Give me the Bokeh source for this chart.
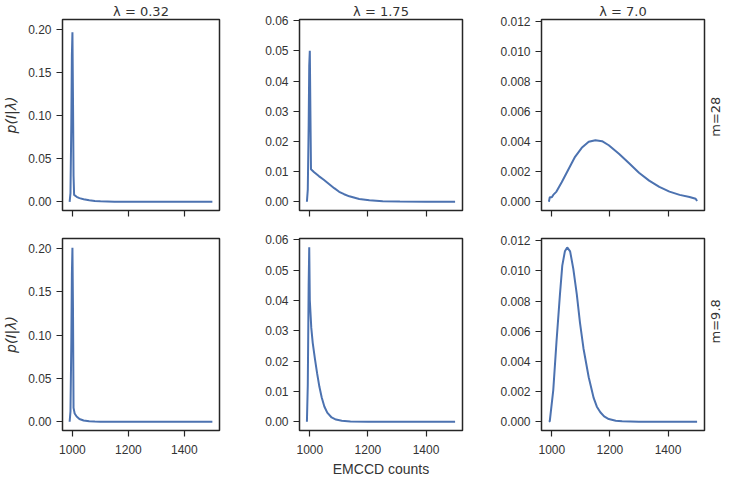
from math import pi
from bokeh.plotting import figure
from bokeh.layouts import gridplot
from bokeh.models import Range1d, FixedTicker, Label, PrintfTickFormatter
from bokeh.embed import file_html
from bokeh.resources import INLINE

# ---- labels / ticks ----
lambda_labels = ["0.32", "1.75", "7.0"]
gain_labels = ["28", "9.8"]
x_tick_values = [1000, 1200, 1400]
y_ticks_col = [
    [0.0, 0.05, 0.10, 0.15, 0.20],
    [0.0, 0.01, 0.02, 0.03, 0.04, 0.05, 0.06],
    [0.0, 0.002, 0.004, 0.006, 0.008, 0.010, 0.012],
]
y_formats = ["%.2f", "%.2f", "%.3f"]

# ---- series ----
# lambda = 0.32, m = 28
counts_032_m28 = [990, 993, 996, 998, 1000, 1002, 1004, 1006, 1015, 1025, 1040, 1060, 1080, 1100, 1150, 1200, 1300, 1400, 1500]
pdf_032_m28 = [0.0, 0.01, 0.09, 0.17, 0.197, 0.12, 0.03, 0.008, 0.0058, 0.0043, 0.003, 0.0018, 0.001, 0.0006, 0.0002, 0.0001, 0.0, 0.0, 0.0]
# lambda = 1.75, m = 28
counts_175_m28 = [990, 993, 996, 998, 1000, 1002, 1004, 1015, 1031, 1048, 1066, 1084, 1101, 1118, 1136, 1170, 1205, 1251, 1310, 1400, 1500]
pdf_175_m28 = [0.0, 0.004, 0.025, 0.045, 0.050, 0.03, 0.0108, 0.0098, 0.0085, 0.0073, 0.0059, 0.0045, 0.0033, 0.0025, 0.0018, 0.0009, 0.0005, 0.0002, 0.0001, 0.0, 0.0]
# lambda = 7.0, m = 28
counts_70_m28 = [990, 993, 1000, 1005, 1016, 1034, 1057, 1080, 1103, 1127, 1150, 1173, 1196, 1231, 1266, 1300, 1335, 1370, 1405, 1440, 1474, 1495, 1500]
pdf_70_m28 = [0.0, 0.0003, 0.0003, 0.00046, 0.00068, 0.0013, 0.00215, 0.003, 0.0036, 0.0040, 0.0041, 0.00404, 0.00377, 0.0032, 0.00257, 0.00194, 0.00141, 0.00099, 0.00068, 0.00046, 0.00032, 0.0002, 0.00005]
# lambda = 0.32, m = 9.8
counts_032_m98 = [990, 993, 996, 998, 1000, 1002, 1004, 1008, 1015, 1025, 1040, 1060, 1080, 1100, 1200, 1300, 1400, 1500]
pdf_032_m98 = [0.0, 0.012, 0.09, 0.17, 0.201, 0.13, 0.016, 0.0095, 0.006, 0.0032, 0.0015, 0.0005, 0.0002, 0.0, 0.0, 0.0, 0.0, 0.0]
# lambda = 1.75, m = 9.8
counts_175_m98 = [990, 993, 996, 998, 1000, 1005, 1010, 1018, 1025, 1033, 1041, 1050, 1060, 1075, 1090, 1110, 1140, 1200, 1300, 1400, 1500]
pdf_175_m98 = [0.0, 0.012, 0.045, 0.0575, 0.04, 0.031, 0.026, 0.0205, 0.016, 0.0115, 0.008, 0.005, 0.003, 0.0014, 0.0007, 0.0003, 0.0001, 0.0, 0.0, 0.0, 0.0]
# lambda = 7.0, m = 9.8
counts_70_m98 = [990, 993, 1005, 1016, 1028, 1036, 1045, 1053, 1063, 1074, 1086, 1097, 1109, 1127, 1144, 1155, 1167, 1180, 1196, 1220, 1242, 1300, 1400, 1500]
pdf_70_m98 = [0.0, 0.00004, 0.0021, 0.00528, 0.00845, 0.01035, 0.0113, 0.01156, 0.0113, 0.01014, 0.00845, 0.00655, 0.00486, 0.00295, 0.00158, 0.001, 0.00063, 0.00036, 0.00018, 0.00007, 0.00003, 0.0, 0.0, 0.0]

series = [
    [(counts_032_m28, pdf_032_m28), (counts_175_m28, pdf_175_m28), (counts_70_m28, pdf_70_m28)],
    [(counts_032_m98, pdf_032_m98), (counts_175_m98, pdf_175_m98), (counts_70_m98, pdf_70_m98)],
]

x_lim = (964.5, 1525.5)
y_lims = [(-0.0101, 0.2117), (-0.0029, 0.0604), (-0.00058, 0.01215)]

DARK = "#262626"
TXT = "#333333"
LINE = "#4c72b0"
FRAME_W = 163
FRAME_H = 192
left_b = [56, 48, 48]
right_b = [32, 31, 4]
LABEL_W = 721 - sum(left_b) - sum(right_b) - 3 * FRAME_W
top_bs = [18, 14]
bot_bs = [14, 49]

rows = []
for r in range(2):
    row = []
    top_b = top_bs[r]
    bot_b = bot_bs[r]
    H = top_b + FRAME_H + bot_b
    for c in range(3):
        p = figure(width=left_b[c] + FRAME_W + right_b[c], height=H,
                   x_range=Range1d(*x_lim), y_range=Range1d(*y_lims[c]),
                   output_backend="svg", toolbar_location=None,
                   min_border_left=left_b[c], min_border_right=right_b[c],
                   min_border_top=top_b, min_border_bottom=bot_b)
        p.grid.visible = False
        p.outline_line_color = DARK
        p.outline_line_width = 1.5
        p.outline_line_alpha = 1.0
        p.background_fill_color = "white"
        p.border_fill_color = "white"
        xs, ys = series[r][c]
        p.line(xs, ys, line_color=LINE, line_width=2)

        for ax in (p.xaxis[0], p.yaxis[0]):
            ax.axis_line_color = None
            ax.major_tick_line_color = DARK
            ax.major_tick_line_width = 1.2
            ax.major_tick_out = 6
            ax.major_tick_in = 0
            ax.minor_tick_line_color = None
            ax.major_label_text_font = "Liberation Sans"
            ax.major_label_text_font_size = "12px"
            ax.major_label_text_color = TXT
            ax.major_label_standoff = 5
        p.xaxis.ticker = FixedTicker(ticks=x_tick_values)
        p.yaxis.ticker = FixedTicker(ticks=y_ticks_col[c])
        p.yaxis.formatter = PrintfTickFormatter(format=y_formats[c])
        if r == 0:
            p.xaxis.major_label_overrides = {v: "" for v in x_tick_values}
            p.title.text = "λ = " + lambda_labels[c]
            p.title.align = "center"
            p.title.text_font = "DejaVu Sans"
            p.title.text_font_style = "normal"
            p.title.text_font_size = "13px"
            p.title.text_color = TXT
            p.title.standoff = 2
        else:
            p.xaxis.major_label_standoff = 8
        if c == 0:
            p.yaxis.axis_label = "p(I|λ)"
            p.yaxis.axis_label_text_font = "DejaVu Sans"
            p.yaxis.axis_label_text_font_style = "italic"
            p.yaxis.axis_label_text_font_size = "14px"
            p.yaxis.axis_label_text_color = TXT
            p.yaxis.axis_label_standoff = 6
        if r == 1 and c == 1:
            p.xaxis.axis_label = "EMCCD counts"
            p.xaxis.axis_label_text_font = "Liberation Sans"
            p.xaxis.axis_label_text_font_style = "normal"
            p.xaxis.axis_label_text_font_size = "14px"
            p.xaxis.axis_label_text_color = TXT
            p.xaxis.axis_label_standoff = 4
        row.append(p)

    # thin strip carrying the row's margin label (reads bottom to top)
    q = figure(width=LABEL_W, height=H, x_range=Range1d(0, LABEL_W), y_range=Range1d(0, H),
               output_backend="svg", toolbar_location=None,
               x_axis_type=None, y_axis_type=None,
               min_border_left=0, min_border_right=0, min_border_top=0, min_border_bottom=0)
    q.grid.visible = False
    q.outline_line_color = None
    q.add_layout(Label(x=LABEL_W / 2, y=H - (top_b + FRAME_H / 2), angle=pi / 2,
                       text="m=" + gain_labels[r], text_align="center",
                       text_baseline="middle", text_font="DejaVu Sans",
                       text_font_size="13px", text_color=TXT))
    row.append(q)
    rows.append(row)

grid = gridplot(rows, toolbar_location=None)
open("out.html", "w").write(file_html(grid, INLINE))
